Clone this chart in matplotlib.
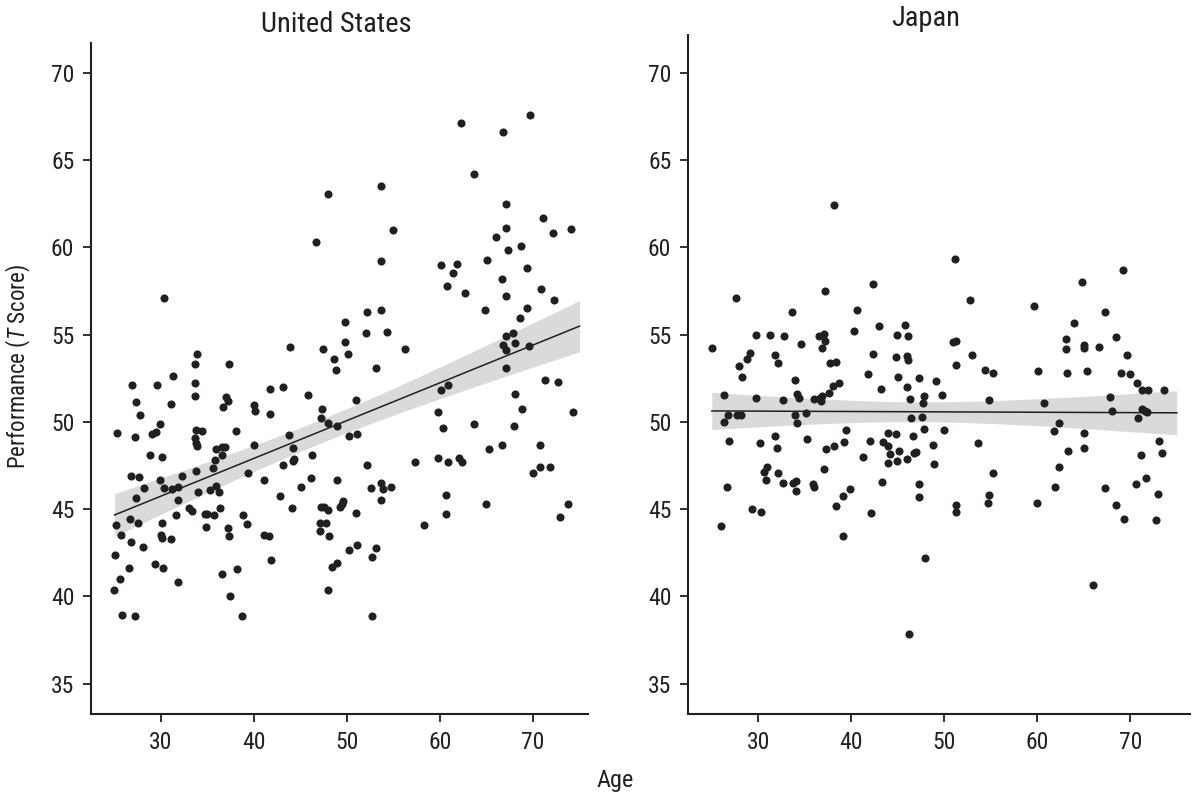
"""Performance vs age scatter with linear fit, United States vs Japan."""
import numpy as np
import matplotlib
matplotlib.use("Agg")
import matplotlib.pyplot as plt
from matplotlib import font_manager

# --- data (age, T score) ----------------------------------------------------
us_age = [
    30.3, 46.7, 48.0, 43.9, 47.4, 33.9, 33.7, 37.3,
    53.6, 54.9, 53.6, 62.3, 66.8, 69.7, 63.7, 67.1, 71.1, 72.1, 74.05, 67.1,
    66.0, 67.35, 68.7, 60.1, 61.8, 61.4, 65.0, 60.75, 62.7, 66.7, 69.3, 67.1,
    70.9, 72.3, 64.8, 69.35, 68.6, 67.1, 67.8, 66.8, 67.1, 68.1, 69.6, 67.1,
    49.8, 52.1, 53.7, 52.0, 54.3, 49.8, 50.1, 48.6, 48.8, 56.2, 53.1,
    31.3, 26.9, 29.6, 33.7, 33.6, 27.3, 31.1, 27.7, 29.9, 25.3,
    27.2, 29.05, 29.5, 33.75, 34.4, 33.6, 33.8, 33.9, 28.8, 30.1,
    37.0, 37.15, 36.65, 40.0, 40.1, 41.7, 43.1, 41.7, 38.1, 40.0,
    35.9, 36.6, 36.9, 36.55, 35.75, 35.6, 33.75, 39.3, 26.8, 27.6,
    29.85, 32.3, 28.2, 30.3, 31.15, 31.8, 33.95, 35.3, 35.9, 36.25,
    27.35, 31.8, 26.7, 27.5, 25.15, 31.6, 33.0, 33.3, 34.7, 34.9,
    35.7, 36.35, 34.85, 30.1, 37.15, 38.8, 39.2, 37.35, 25.7, 26.8,
    29.95, 30.1, 31.1, 28.05, 25.1, 26.6, 29.3, 30.25, 25.6, 31.85,
    36.6, 38.15, 24.95, 37.4, 25.75, 27.2, 38.75, 41.1, 41.1, 41.6,
    41.85, 42.8, 43.15, 43.8, 44.15, 44.15, 44.35, 44.1, 45.1, 45.8,
    46.2, 46.1, 47.35, 47.25, 47.9, 48.9, 47.2, 47.55, 47.9, 47.1,
    47.7, 47.1, 48.1, 47.9,
    71.3, 72.65, 68.1, 68.8, 74.3, 51.0, 60.1, 60.9, 59.8, 60.3,
    63.7, 67.9, 50.2, 51.1, 65.3, 66.7, 70.7, 59.8, 60.85, 62.05,
    62.35, 57.3, 52.2, 70.0, 70.8, 71.8, 48.95, 52.6, 53.6, 53.9,
    54.75, 60.65, 60.65, 53.6, 49.2, 49.6, 49.45, 50.95, 64.95, 73.8,
    72.85, 58.3, 50.25, 51.05, 53.15, 52.7, 48.9, 48.35, 52.7,
]
us_score = [
    57.1, 60.3, 63.05, 54.3, 54.2, 53.9, 53.3, 53.3,
    63.5, 61.0, 59.2, 67.1, 66.6, 67.6, 64.2, 62.5, 61.7, 60.8, 61.05, 61.1,
    60.6, 59.85, 60.1, 59.0, 59.05, 58.5, 59.3, 57.8, 57.4, 58.2, 58.8, 57.2,
    57.6, 57.0, 56.4, 56.5, 55.95, 54.9, 55.1, 54.4, 54.1, 54.5, 54.35, 53.1,
    55.7, 56.3, 56.4, 55.1, 55.15, 54.6, 53.9, 53.6, 53.0, 54.2, 53.1,
    52.65, 52.1, 52.1, 52.25, 51.5, 51.15, 51.0, 50.4, 49.9, 49.35,
    49.15, 49.3, 49.4, 49.55, 49.5, 49.1, 48.8, 48.6, 48.1, 48.0,
    51.4, 51.2, 50.85, 50.95, 50.65, 51.9, 52.0, 50.45, 49.5, 48.7,
    48.45, 48.55, 48.55, 48.1, 47.8, 47.35, 47.2, 47.1, 46.9, 46.85,
    46.65, 46.9, 46.2, 46.2, 46.15, 46.25, 46.0, 46.1, 46.3, 46.0,
    45.65, 45.5, 44.45, 44.2, 44.1, 44.65, 45.05, 44.9, 44.75, 44.7,
    44.65, 45.05, 44.0, 44.2, 43.95, 44.65, 44.15, 43.45, 43.55, 43.1,
    43.55, 43.35, 43.3, 42.85, 42.35, 41.65, 41.85, 41.65, 41.0, 40.85,
    41.3, 41.55, 40.4, 40.0, 38.95, 38.9, 38.9, 46.65, 43.5, 43.45,
    42.1, 45.75, 47.55, 49.25, 48.5, 47.75, 47.85, 45.05, 46.25, 51.55,
    48.1, 46.8, 50.75, 50.25, 49.95, 49.75, 45.1, 45.15, 44.95, 44.2,
    44.2, 43.75, 43.45, 40.35,
    52.4, 52.3, 51.6, 50.75, 50.55, 51.25, 51.8, 52.1, 50.55, 49.65,
    49.9, 49.75, 49.2, 49.3, 48.45, 48.7, 48.7, 47.95, 47.7, 47.95,
    47.7, 47.7, 47.55, 47.05, 47.4, 47.4, 46.65, 46.2, 46.5, 46.15,
    46.25, 45.8, 44.7, 45.5, 45.15, 45.45, 45.3, 44.8, 45.3, 45.3,
    44.55, 44.1, 42.65, 42.95, 42.8, 42.25, 41.9, 41.7, 38.9,
]

jp_age = [
    38.17, 27.59, 42.3, 37.12, 40.65, 33.6, 43.02, 45.79, 25.0, 29.75,
    31.26, 32.81, 34.64, 36.55, 37.09, 37.12, 36.8, 40.29, 44.86, 46.15,
    27.88, 28.81, 29.1, 31.8, 32.09, 37.73, 38.38, 42.3, 44.78, 46.04,
    46.15,
    51.18, 69.18, 64.8, 52.72, 59.61, 67.28, 63.95, 50.97, 51.25, 63.05,
    63.08, 65.0, 65.05, 66.6, 68.42, 69.6, 52.97, 51.25,
    28.2, 33.92, 41.83, 45.0, 45.97, 43.2, 26.29, 29.75, 32.66, 34.21,
    34.35, 36.0, 36.65, 36.69, 36.83, 37.63, 38.02, 38.63, 46.26, 46.37,
    26.29, 26.76, 27.66, 28.09, 33.99, 34.14, 35.14, 26.8, 30.18, 31.76,
    32.01, 35.22, 39.39, 39.21, 38.17, 37.3, 42.05, 41.29, 43.42, 43.99,
    43.96, 44.78, 44.21, 43.92, 45.11, 44.86, 45.94, 46.65, 46.73, 46.91,
    37.09, 30.65, 30.9, 32.09, 30.83, 32.63, 33.78, 34.06, 34.1, 35.83,
    36.04, 26.65, 39.82, 39.06, 38.31, 43.31, 29.28, 30.25, 42.12, 25.97,
    39.14, 46.19,
    54.37, 55.2, 47.28, 49.14, 47.78, 47.71, 49.71, 54.8, 60.04, 63.19,
    65.38, 68.96, 69.96, 70.75, 71.29, 71.86, 73.62, 67.81, 60.75, 68.06,
    71.29, 71.58, 71.76, 70.86, 47.6, 62.29, 47.78, 50.0, 61.76, 65.02,
    53.62, 48.75, 73.12, 63.33, 65.02, 71.18, 73.4, 48.92, 62.33, 55.2,
    47.28, 47.28, 61.86, 67.24, 70.65, 71.72, 54.8, 54.66, 59.96, 51.29,
    51.29, 68.42, 73.01, 69.28, 72.72, 47.92, 65.95,
]
jp_score = [
    62.42, 57.1, 57.9, 57.5, 56.41, 56.3, 55.5, 55.53, 54.24, 54.98,
    54.98, 54.92, 54.47, 54.92, 55.04, 54.64, 54.24, 55.21, 54.98, 54.92,
    53.21, 53.61, 53.95, 53.84, 53.38, 53.38, 53.44, 53.89, 53.72, 53.78,
    53.55,
    59.33, 58.7, 58.02, 56.98, 56.64, 56.3, 55.67, 54.6, 54.66, 54.75,
    54.18, 54.4, 54.25, 54.29, 54.87, 53.84, 53.84, 53.26,
    52.59, 52.41, 52.76, 52.59, 52.01, 51.9, 51.55, 51.38, 51.26, 51.61,
    51.38, 51.32, 51.38, 51.21, 51.49, 51.67, 52.07, 52.22, 51.32, 50.23,
    50.0, 50.4, 50.4, 50.4, 50.4, 49.94, 50.52, 48.91, 48.79, 49.2,
    48.51, 49.02, 49.54, 48.85, 48.62, 48.45, 48.91, 47.99, 48.85, 49.37,
    48.62, 49.29, 48.16, 47.64, 48.33, 47.76, 47.87, 49.2, 48.22, 48.28,
    47.3, 47.13, 47.41, 47.07, 46.67, 46.49, 46.49, 46.61, 46.03, 46.44,
    46.26, 46.26, 46.15, 45.75, 45.17, 46.55, 45.0, 44.83, 44.77, 44.02,
    43.45, 37.87,
    52.95, 52.8, 52.53, 52.36, 51.49, 51.09, 51.55, 51.26, 52.93, 52.82,
    52.89, 52.82, 52.76, 52.24, 51.84, 51.84, 51.84, 51.44, 51.09, 50.63,
    50.75, 50.63, 50.54, 50.23, 50.29, 49.94, 49.6, 49.54, 49.48, 49.37,
    48.79, 48.68, 48.91, 48.33, 48.51, 48.1, 48.24, 47.59, 47.41, 47.07,
    46.44, 45.69, 46.26, 46.21, 46.44, 46.78, 45.8, 45.34, 45.34, 45.25,
    44.83, 45.23, 45.86, 44.43, 44.37, 42.18, 40.63,
]

panels = ["United States", "Japan"]
x_ticks = [30, 40, 50, 60, 70]
y_ticks = [35, 40, 45, 50, 55, 60, 65, 70]
fit_range = (25, 75)

# --- style -----------------------------------------------------------------
# the original uses a condensed grotesque; take a narrow face when there is one
names = {f.name for f in font_manager.fontManager.ttflist}
family = "Liberation Sans"
for cand in ["Liberation Sans Narrow", "Roboto Condensed", "Arial Narrow",
             "Nimbus Sans Narrow", "Open Sans Condensed"]:
    if cand in names:
        family = cand
        break
plt.rcParams["font.family"] = [family, "DejaVu Sans"]
plt.rcParams["mathtext.fontset"] = "custom"
plt.rcParams["mathtext.rm"] = family
plt.rcParams["mathtext.it"] = family + ":italic"

INK = "#231f20"
BAND = "#d9dadb"
W, H = 1193, 795


def fit_band(x, y, grid):
    """OLS line with 95% confidence band of the mean."""
    b, a = np.polyfit(x, y, 1)
    n = len(x)
    resid = y - (a + b * x)
    s = np.sqrt(resid @ resid / (n - 2))
    sxx = ((x - x.mean()) ** 2).sum()
    se = s * np.sqrt(1 / n + (grid - x.mean()) ** 2 / sxx)
    yhat = a + b * grid
    return yhat, yhat - 1.97 * se, yhat + 1.97 * se


fig = plt.figure(figsize=(W / 100, H / 100), dpi=100)
# axes boxes in pixels (left, bottom, width, height)
ax_us = fig.add_axes([91 / W, 81 / H, 497 / W, 671 / H])
ax_jp = fig.add_axes([688 / W, 81 / H, 502 / W, 679 / H])

data = [(us_age, us_score), (jp_age, jp_score)]
xlims = [(22.47, 75.91), (22.44, 76.42)]
ylims = [(33.27, 71.7), (33.27, 72.16)]
title_pos = [(336, 25), (926, 18)]
grid = np.linspace(*fit_range, 200)

for ax, title, (age, score), xlim, ylim, (tx, ty) in zip(
        [ax_us, ax_jp], panels, data, xlims, ylims, title_pos):
    age = np.asarray(age); score = np.asarray(score)
    yhat, lo, hi = fit_band(age, score, grid)
    ax.fill_between(grid, lo, hi, color=BAND, lw=0, zorder=1)
    ax.scatter(age, score, s=34, color=INK, lw=0, zorder=2)
    ax.plot(grid, yhat, color=INK, lw=1.1, zorder=3)

    ax.set_xlim(*xlim); ax.set_ylim(*ylim)
    ax.set_xticks(x_ticks); ax.set_yticks(y_ticks)
    ax.tick_params(direction="out", length=6, width=1.3, colors=INK,
                   labelsize=17)
    ax.tick_params(axis="y", pad=6)
    ax.tick_params(axis="x", pad=6)
    for side in ("top", "right"):
        ax.spines[side].set_visible(False)
    for side in ("left", "bottom"):
        ax.spines[side].set_linewidth(1.5); ax.spines[side].set_color(INK)
    fig.text(tx / W, 1 - ty / H, title, ha="center", va="center",
             fontsize=20.5, color=INK)

fig.text(615 / W, 1 - 780 / H, "Age", ha="center", va="center",
         fontsize=17.5, color=INK)
fig.text(18 / W, 1 - 366 / H, "Performance ($\\mathit{T}$ Score)",
         ha="center", va="center", rotation=90, fontsize=16.5, color=INK)

fig.savefig("out.png", dpi=100)
plt.close(fig)
